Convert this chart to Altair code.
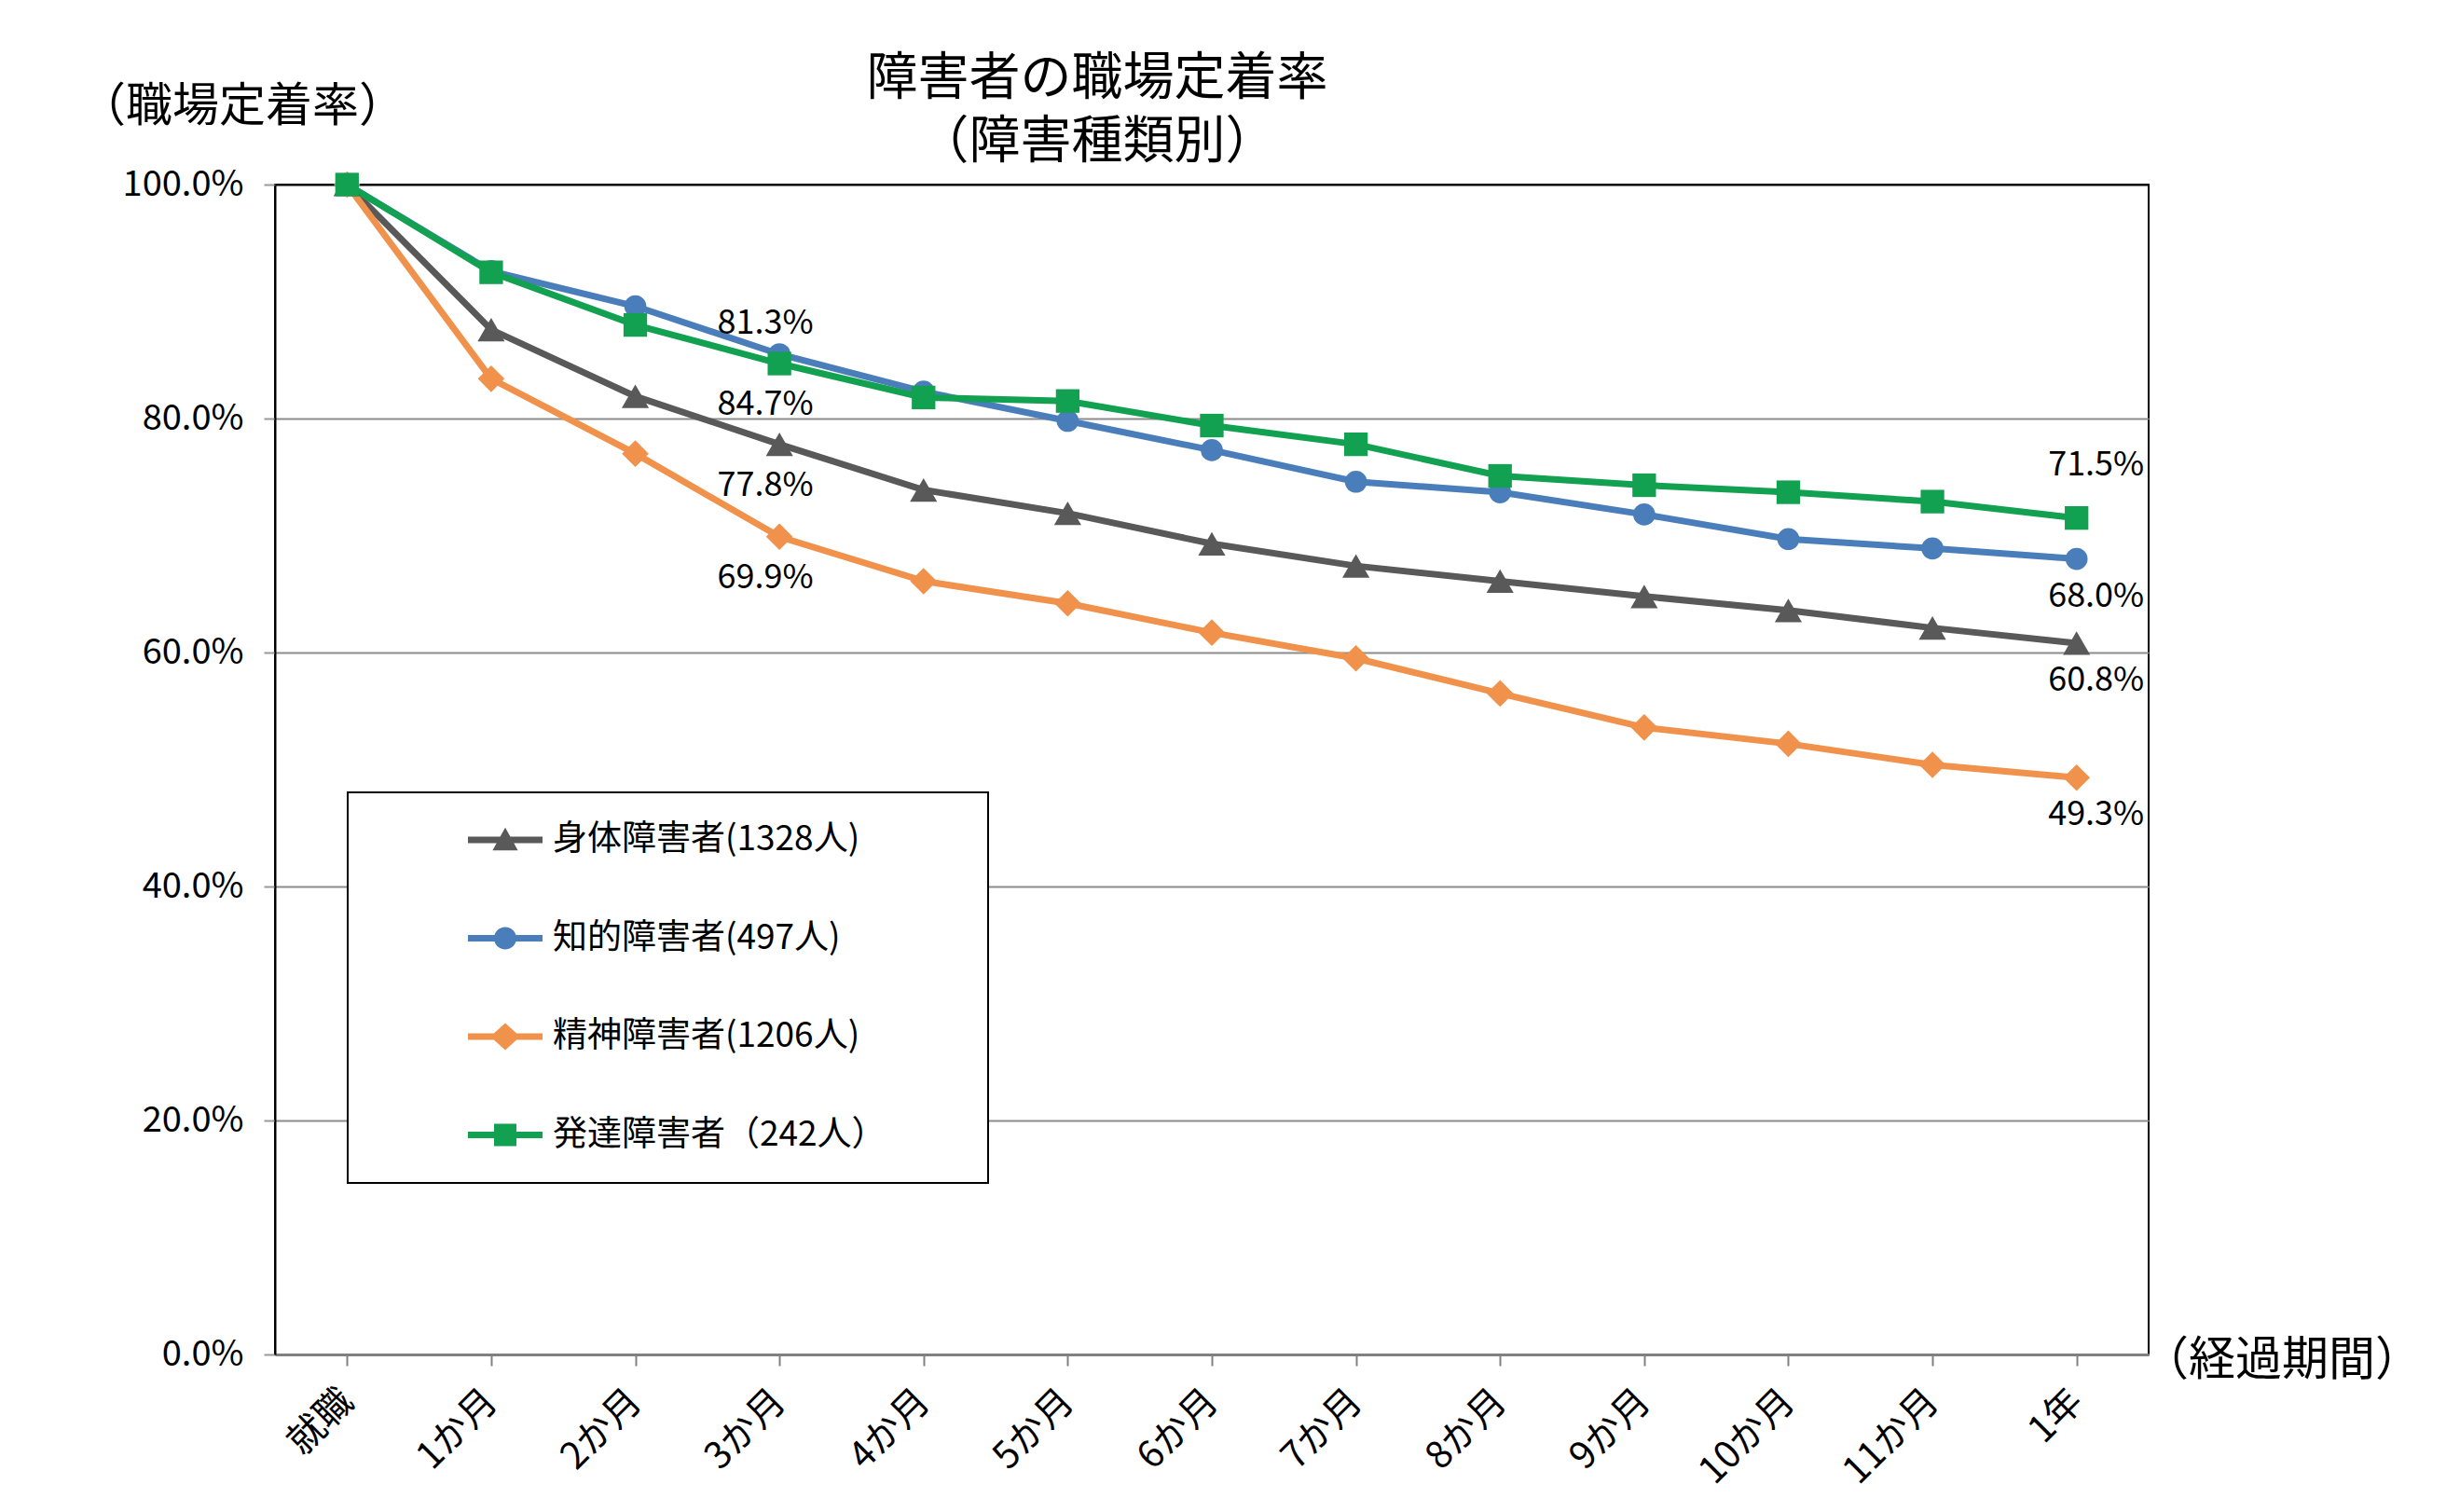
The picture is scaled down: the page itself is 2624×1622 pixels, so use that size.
import altair as alt
import pandas as pd

FONT = "Noto Sans CJK JP"

periods = ["就職", "1か月", "2か月", "3か月", "4か月", "5か月", "6か月",
           "7か月", "8か月", "9か月", "10か月", "11か月", "1年"]
series_names = ["身体障害者(1328人)", "知的障害者(497人)",
                "精神障害者(1206人)", "発達障害者（242人）"]
physical = [100, 87.6, 81.9, 77.8, 73.9, 71.9, 69.3, 67.4, 66.1, 64.8, 63.6, 62.1, 60.8]
intellectual = [100, 92.6, 89.6, 85.5, 82.3, 79.8, 77.3, 74.6, 73.7, 71.8, 69.7, 68.9, 68.0]
mental = [100, 83.4, 77.0, 69.9, 66.1, 64.2, 61.7, 59.5, 56.5, 53.6, 52.2, 50.4, 49.3]
developmental = [100, 92.5, 88.0, 84.7, 81.8, 81.5, 79.4, 77.8, 75.1, 74.3, 73.7, 72.9, 71.5]
series_values = [physical, intellectual, mental, developmental]
colors = ["#595959", "#4a7ebb", "#f0924c", "#12a150"]
shapes = ["triangle-up", "circle", "diamond", "square"]
shape_sizes = [850, 560, 820, 640]

# data labels
label_series = [1, 3, 0, 2, 3, 1, 0, 2]
label_period = ["3か月", "3か月", "3か月", "3か月", "1年", "1年", "1年", "1年"]
label_text = ["81.3%", "84.7%", "77.8%", "69.9%", "71.5%", "68.0%", "60.8%", "49.3%"]
label_side = ["above", "below", "below", "below", "above", "below", "below", "below"]

title_lines = ["障害者の職場定着率", "（障害種類別）"]
y_title = "（職場定着率）"
x_title = "（経過期間）"

rows = []
for name, vals in zip(series_names, series_values):
    for p, v in zip(periods, vals):
        rows.append({"period": p, "series": name, "value": v})
df = pd.DataFrame(rows)

lab_rows = []
for si, p, t, s in zip(label_series, label_period, label_text, label_side):
    v = series_values[si][periods.index(p)]
    lab_rows.append({"period": p, "series": series_names[si], "value": v,
                     "text": t, "side": s})
lab_df = pd.DataFrame(lab_rows)

x_enc = alt.X("period:N", sort=periods,
              scale=alt.Scale(type="point", padding=0.5),
              axis=alt.Axis(title=None, labelAngle=-45, labelFont=FONT,
                            labelFontSize=40, labelColor="black",
                            labelPadding=32, tickSize=12, tickColor="#808080",
                            tickWidth=2, domainColor="#808080", domainWidth=3,
                            grid=False, labelAlign="right", labelBaseline="middle"))
y_enc = alt.Y("value:Q",
              scale=alt.Scale(domain=[0, 100], nice=False),
              axis=alt.Axis(title=None, values=[0, 20, 40, 60, 80, 100],
                            labelExpr="format(datum.value, '.1f') + '%'",
                            labelFont=FONT, labelFontSize=38, labelColor="black",
                            labelPadding=22, tickSize=12, tickColor="#999999",
                            tickWidth=2, domainColor="black", domainWidth=2,
                            grid=True, gridWidth=2,
                            gridColor={"condition": {"test": "datum.value === 100",
                                                     "value": "black"},
                                       "value": "#8c8c8c"}))

box = alt.Chart(pd.DataFrame({"k": [0]})).mark_rect(
    fill="white", stroke="black", strokeWidth=2
).encode(x=alt.value(78), x2=alt.value(765), y=alt.value(652), y2=alt.value(1071))

lines = alt.Chart(df).mark_line(strokeWidth=7).encode(
    x=x_enc, y=y_enc,
    stroke=alt.Stroke("series:N", scale=alt.Scale(domain=series_names, range=colors),
                      legend=None),
    detail="series:N",
)

point_layers = []
for name, shp, sz in zip(series_names, shapes, shape_sizes):
    point_layers.append(
        alt.Chart(df).transform_filter(alt.datum.series == name)
        .mark_point(filled=True, opacity=1, shape=shp, size=sz, strokeWidth=0)
        .encode(x=x_enc, y=y_enc,
                fill=alt.Fill("series:N",
                              scale=alt.Scale(domain=series_names, range=colors),
                              legend=None))
    )

label_layers = []
for side, per, dx, dy in [("above", "3か月", -15, -33), ("below", "3か月", -15, 44),
                          ("above", "1年", 21, -57), ("below", "1年", 21, 40)]:
    label_layers.append(
        alt.Chart(lab_df)
        .transform_filter((alt.datum.side == side) & (alt.datum.period == per))
        .mark_text(font=FONT, fontSize=36, color="black", dx=dx, dy=dy,
                   baseline="middle", align="center")
        .encode(x=x_enc, y=y_enc, text="text:N")
    )

# legend symbols: line segment + marker
bar = "M-2,-0.17H2V0.17H-2Z"
legend_paths = [
    bar + " M0,-0.66L0.68,0.56L-0.68,0.56Z",
    bar + " M0.6,0A0.6,0.6 0 1,1 -0.6,0A0.6,0.6 0 1,1 0.6,0Z",
    bar + " M0,-0.72L0.8,0L0,0.72L-0.8,0Z",
    bar + " M-0.6,-0.6H0.6V0.6H-0.6Z",
]
legend_props = dict(title=None, orient="none", legendX=227, legendY=683,
                    labelFont=FONT, labelFontSize=37, labelColor="black",
                    labelLimit=800, symbolSize=1600, rowPadding=67.5,
                    labelOffset=31, symbolStrokeWidth=0, padding=0, zindex=5)
legend_layer = alt.Chart(df).mark_point(
    filled=True, opacity=0
).encode(
    x=x_enc, y=y_enc,
    color=alt.Color("series:N", scale=alt.Scale(domain=series_names, range=colors),
                    legend=alt.Legend(symbolOpacity=1, **legend_props)),
    shape=alt.Shape("series:N", scale=alt.Scale(domain=series_names, range=legend_paths),
                    legend=alt.Legend(symbolOpacity=1, **legend_props)),
)


def text_layer(txt, x, y, size, line_height=None):
    props = dict(font=FONT, fontSize=size, color="black", align="center",
                 baseline="middle")
    if line_height:
        props.update(lineBreak="\n", lineHeight=line_height)
    return alt.Chart(pd.DataFrame({"t": [txt]})).mark_text(**props).encode(
        text="t:N", x=alt.value(x), y=alt.value(y))


texts = [
    text_layer("\n".join(title_lines), 882, -114, 55, line_height=68),
    text_layer(y_title, -35, -83, 50),
    text_layer(x_title, 2153, 1262, 50),
]

chart = alt.layer(
    box, legend_layer, lines, *point_layers, *label_layers, *texts
).properties(
    width=2010, height=1255,
    autosize=alt.AutoSizeParams(type="none"),
    padding={"left": 287, "top": 190, "right": 300, "bottom": 150},
    background="white",
).configure_view(stroke="black", strokeWidth=2)

chart.save("out.html", embed_options={"renderer": "svg", "actions": False})
